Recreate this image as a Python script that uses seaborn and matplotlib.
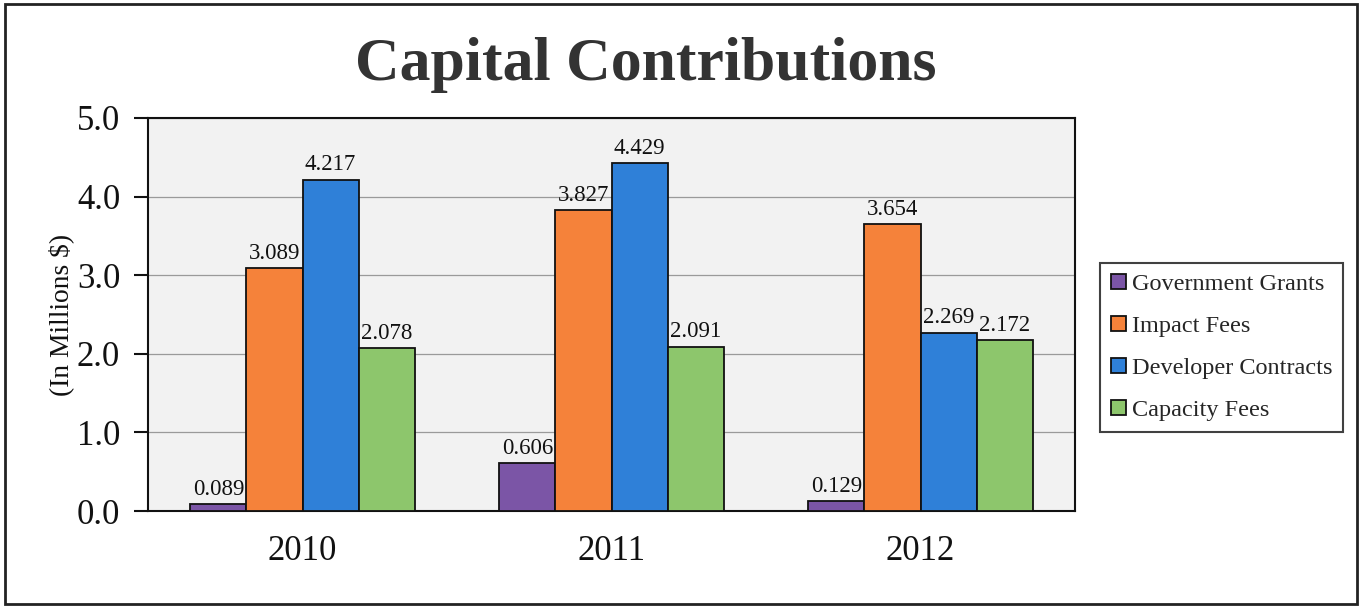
import matplotlib
matplotlib.use("Agg")
import matplotlib.pyplot as plt
import seaborn as sns
import pandas as pd
from matplotlib.patches import Rectangle, Patch
from matplotlib.ticker import FormatStrFormatter

years = ["2010", "2011", "2012"]
series = ["Government Grants", "Impact Fees", "Developer Contracts", "Capacity Fees"]
government_grants = [0.089, 0.606, 0.129]
impact_fees = [3.089, 3.827, 3.654]
developer_contracts = [4.217, 4.429, 2.269]
capacity_fees = [2.078, 2.091, 2.172]
colors = ["#7B55A6", "#F5823A", "#2F80D8", "#8DC66C"]

rows = []
for name, vals in zip(series, [government_grants, impact_fees, developer_contracts, capacity_fees]):
    for y, v in zip(years, vals):
        rows.append({"Year": y, "Series": name, "Value": v})
df = pd.DataFrame(rows)

sns.set_style("white")
plt.rcParams["font.family"] = ["Liberation Serif", "DejaVu Serif"]

W, H = 1360, 607
fig = plt.figure(figsize=(W / 100, H / 100), dpi=100)
fig.patch.set_facecolor("white")

# outer border
fig.patches.append(Rectangle((5 / W, 3 / H), 1352 / W, 600 / H, transform=fig.transFigure,
                             fill=False, edgecolor="#222222", linewidth=2.0))

ax = fig.add_axes([148 / W, (H - 511) / H, 927 / W, (511 - 118) / H])
ax.set_facecolor("#F2F2F2")

sns.barplot(data=df, x="Year", y="Value", hue="Series", hue_order=series, order=years,
            palette=colors, width=0.725, edgecolor="#111111", linewidth=1.3,
            saturation=1, ax=ax, legend=False, zorder=3)

for cont in ax.containers:
    ax.bar_label(cont, fmt="%.3f", padding=3, fontsize=16.5, color="#111111")

ax.set_ylim(0, 5.0)
ax.set_yticks([0, 1, 2, 3, 4, 5])
ax.yaxis.set_major_formatter(FormatStrFormatter("%.1f"))
ax.grid(axis="y", color="#9A9A9A", linewidth=0.9, zorder=0)
ax.set_axisbelow(True)
for s in ax.spines.values():
    s.set_color("#111111")
    s.set_linewidth(1.5)
    s.set_visible(True)
ax.tick_params(axis="y", direction="out", length=10, width=1.5, colors="#111111",
               labelsize=25, pad=10, left=True)
ax.tick_params(axis="x", length=0, labelsize=25, pad=17, colors="#111111")
ax.set_xlabel("")
ax.set_ylabel("(In Millions $)", fontsize=19.8, labelpad=2, color="#111111")

fig.text(646 / W, 1 - 65 / H, "Capital Contributions", ha="center", va="center",
         fontsize=44.5, fontweight="bold", color="#333333")

handles = [Patch(facecolor=c, edgecolor="#111111", linewidth=1.3) for c in colors]
leg = fig.legend(handles, series, loc="upper left",
                 bbox_to_anchor=(1100 / W, 1 - 263 / H), frameon=True, fancybox=False,
                 fontsize=17.5, handlelength=0.6, handleheight=0.6, handletextpad=0.25,
                 labelspacing=0.85, borderpad=0.45, borderaxespad=0)
leg.get_frame().set_edgecolor("#111111")
leg.get_frame().set_linewidth(1.5)

fig.savefig("out.png", dpi=100)
